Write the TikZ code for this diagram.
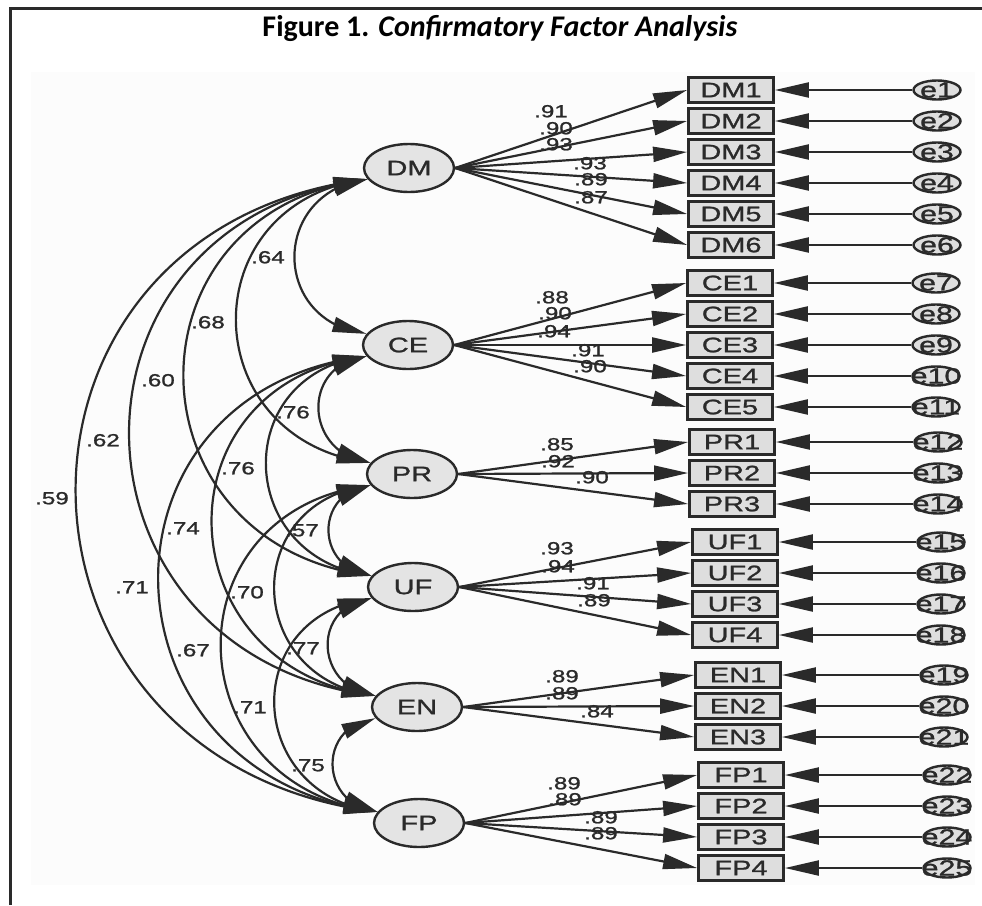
\documentclass[tikz,border=0pt]{standalone}
\usepackage{fontspec}
\newfontfamily\amosfont[FakeStretch=1.38,FakeBold=1.2]{Liberation Sans}
\newfontfamily\titlefont{Carlito}
\usetikzlibrary{arrows.meta,bending,shapes.geometric}
\definecolor{ink}{HTML}{2A2A2A}
\definecolor{boxfill}{HTML}{DEDEDE}
\definecolor{latfill}{HTML}{E4E4E4}
\definecolor{panel}{HTML}{FCFCFC}
\newcommand{\amossize}[1]{\amosfont\fontsize{#1}{#1}\selectfont}

\begin{document}
\begin{tikzpicture}[x=1pt,y=1pt,
  latent/.style={ellipse, draw=ink, line width=2.4pt, fill=latfill,
    minimum width=90pt, minimum height=48pt, inner sep=0pt,
    font=\amossize{21}, text=ink},
  indicator/.style={rectangle, draw=ink, line width=2.8pt, fill=boxfill,
    minimum width=85pt, minimum height=25pt, inner sep=0pt,
    font=\amossize{21}, text=ink},
  errterm/.style={ellipse, draw=ink, line width=2.4pt, fill=boxfill,
    minimum width=47pt, minimum height=19pt, inner sep=0pt},
  errlabel/.style={font=\amossize{22}, text=ink, inner sep=0pt},
  coef/.style={font=\amossize{17.5}, text=ink, inner sep=0pt,
    text height=12.5pt, text depth=0pt},
  tip/.tip={Triangle[length=34pt,width=15pt]},
  load/.style={draw=ink, line width=2.2pt, -tip},
  cov/.style={draw=ink, line width=2.2pt, tip-tip, out=187, in=173, looseness=1.61},
]
\useasboundingbox (0,0) rectangle (982,-905);

% frame and panel
\fill[panel] (31,-72) rectangle (975,-885);
\draw[ink, line width=3pt] (10,-905) -- (10,-8) -- (982,-8);

% title
\node[font=\titlefont\fontsize{30}{30}\selectfont\bfseries, text=black] (title) at (500,-29)
  {Figure 1. \textit{Confirmatory Factor Analysis}};

% latent factors
\node[latent] (DM) at (409,-168) {DM};
\node[latent] (CE) at (408,-345) {CE};
\node[latent] (PR) at (412,-474) {PR};
\node[latent] (UF) at (413,-587) {UF};
\node[latent] (EN) at (417,-707) {EN};
\node[latent] (FP) at (419,-823) {FP};

% indicators with their error terms
\foreach \n/\x/\y/\e in {
  DM1/731/90/1, DM2/731/121/2, DM3/731/152/3, DM4/731/183/4, DM5/731/214/5, DM6/731/245/6,
  CE1/730/283/7, CE2/730/314/8, CE3/730/345/9, CE4/730/376/10, CE5/730/407/11,
  PR1/732/442/12, PR2/732/473/13, PR3/732/504/14,
  UF1/735/542/15, UF2/735/573/16, UF3/735/604/17, UF4/735/635/18,
  EN1/738/675/19, EN2/738/706/20, EN3/738/737/21,
  FP1/741/775/22, FP2/741/806/23, FP3/741/837/24, FP4/741/868/25} {
  \node[indicator] (\n) at (\x,-\y) {\n};
  \node[errterm, label={[errlabel]center:e\e}] (e\e) at (\x+206,-\y) {};
  \draw[load] (e\e) -- (\n);
}

% factor loadings
\foreach \f/\list in {DM/{1,2,3,4,5,6}, CE/{1,2,3,4,5}, PR/{1,2,3},
                      UF/{1,2,3,4}, EN/{1,2,3}, FP/{1,2,3,4}} {
  \foreach \k in \list { \draw[load] (\f.east) -- (\f\k.west); }
}

% loading estimates
\foreach \nm/\x/\y/\v in {
  ldm1/551/111/.91, ldm2/556/128/.90, ldm3/556/144/.93, ldm4/590/163/.93, ldm5/591/179/.89, ldm6/591/197/.87,
  lce1/552/297/.88, lce2/555/313/.90, lce3/554/331/.94, lce4/588/350/.91, lce5/590/366/.90,
  lpr1/557/444/.85, lpr2/558/461/.92, lpr3/592/477/.90,
  luf1/557/548/.93, luf2/558/566/.94, luf3/593/583/.91, luf4/594/600/.89,
  len1/562/676/.89, len2/562/693/.89, len3/597/711/.84,
  lfp1/564/783/.89, lfp2/565/799/.89, lfp3/601/817/.89, lfp4/601/833/.89} {
  \node[coef] (\nm) at (\x,-\y) {\v};
}

% factor covariances
\foreach \a/\b in {DM/CE, DM/PR, DM/UF, DM/EN, DM/FP, CE/PR, CE/UF, CE/EN, CE/FP,
                   PR/UF, PR/EN, PR/FP, UF/EN, UF/FP, EN/FP} {
  \draw[cov] (\a.195) to (\b.165);
}

% correlation estimates
\foreach \nm/\x/\y/\v in {
  rdmce/268/257/.64, rdmpr/208/322/.68, rdmuf/158/380/.60, rdmen/103/440/.62, rdmfp/52/498/.59,
  rcepr/293/412/.76, rceuf/238/468/.76, rceen/183/528/.74, rcefp/132/587/.71,
  rpruf/302/530/.57, rpren/247/592/.70, rprfp/193/650/.67,
  rufen/303/648/.77, rufpf/250/707/.71, renfp/308/765/.75} {
  \node[coef] (\nm) at (\x,-\y) {\v};
}
\end{tikzpicture}
\end{document}
